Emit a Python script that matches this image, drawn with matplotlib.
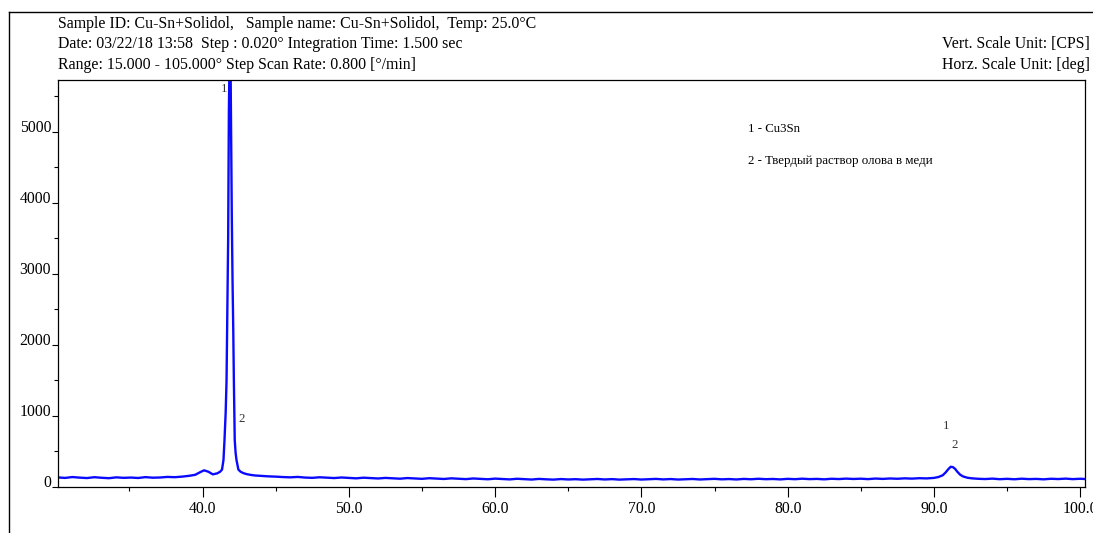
"""XRD pattern of Cu-Sn + Solidol sample, redrawn from the instrument printout."""

import matplotlib.pyplot as plt
from matplotlib.lines import Line2D
from matplotlib.ticker import MultipleLocator, FormatStrFormatter

plt.rcParams["font.family"] = ["Liberation Serif", "DejaVu Serif"]

# 2-theta (deg) and intensity (CPS)
TWO_THETA = [
    30.1, 30.6, 31.1, 31.6, 32.1, 32.6, 33.1, 33.6, 34.1, 34.6, 35.1, 35.6, 36.1, 36.6,
    37.1, 37.6, 38.1, 38.6, 39.1, 39.5, 39.8, 40.1, 40.4, 40.7, 41.0, 41.2, 41.33, 41.43,
    41.5, 41.58, 41.64, 41.7, 41.75, 41.8, 41.85, 41.88, 41.92, 41.96, 42.0, 42.05, 42.1,
    42.14, 42.2, 42.26, 42.32, 42.45, 42.6, 42.8, 43.0, 43.3, 43.6, 44.0, 44.5, 45.0,
    45.5, 46.0, 46.5, 47.0, 47.5, 48.0, 48.5, 49.0, 49.5, 50.0, 50.5, 51.0, 51.5, 52.0,
    52.5, 53.0, 53.5, 54.0, 54.5, 55.0, 55.5, 56.0, 56.5, 57.0, 57.5, 58.0, 58.5, 59.0,
    59.5, 60.0, 60.5, 61.0, 61.5, 62.0, 62.5, 63.0, 63.5, 64.0, 64.5, 65.0, 65.5, 66.0,
    66.5, 67.0, 67.5, 68.0, 68.5, 69.0, 69.5, 70.0, 70.5, 71.0, 71.5, 72.0, 72.5, 73.0,
    73.5, 74.0, 74.5, 75.0, 75.5, 76.0, 76.5, 77.0, 77.5, 78.0, 78.5, 79.0, 79.5, 80.0,
    80.5, 81.0, 81.5, 82.0, 82.5, 83.0, 83.5, 84.0, 84.5, 85.0, 85.5, 86.0, 86.5, 87.0,
    87.5, 88.0, 88.5, 89.0, 89.5, 90.0, 90.3, 90.6, 90.8, 91.0, 91.15, 91.3, 91.45, 91.6,
    91.8, 92.0, 92.3, 92.6, 93.0, 93.5, 94.0, 94.5, 95.0, 95.5, 96.0, 96.5, 97.0, 97.5,
    98.0, 98.5, 99.0, 99.5, 100.0, 100.3,
]
COUNTS = [
    135, 128, 140, 132, 126, 138, 130, 124, 136, 129, 133, 127, 139, 131,
    134, 142, 138, 146, 158, 172, 205, 235, 215, 178, 192, 215, 245, 380,
    660, 1050, 1500, 2600, 3500, 5300, 6100, 6200, 5800, 4800, 3800, 2900, 2200,
    1500, 660, 480, 380, 245, 215, 195, 182, 170, 162, 156, 150, 146,
    140, 136, 142, 133, 129, 137, 131, 126, 134, 128, 122, 131, 125, 120,
    128, 123, 117, 126, 121, 115, 124, 118, 113, 122, 116, 111, 120, 114,
    109, 118, 112, 107, 116, 110, 105, 114, 108, 104, 112, 106, 110, 104,
    109, 113, 106, 111, 104, 108, 112, 105, 110, 114, 107, 112, 105, 109,
    113, 106, 111, 115, 108, 112, 106, 114, 109, 116, 110, 113, 107, 115,
    110, 117, 111, 114, 108, 116, 112, 118, 113, 117, 111, 119, 114, 120,
    116, 122, 118, 124, 121, 128, 140, 165, 205, 255, 285, 280, 255, 215,
    172, 148, 130, 122, 116, 112, 118, 110, 115, 109, 117, 111, 114, 108,
    116, 112, 118, 111, 116, 113,
]

PEAK_LABELS = ["1", "2", "1", "2"]
PEAK_X = [41.45, 42.65, 90.85, 91.4]
PEAK_Y = [5520, 870, 780, 510]

LEGEND_LINES = ["1 - Cu3Sn", "2 - Твердый раствор олова в меди"]

HEADER_LEFT = [
    "Sample ID: Cu-Sn+Solidol,   Sample name: Cu-Sn+Solidol,  Temp: 25.0°C",
    "Date: 03/22/18 13:58  Step : 0.020° Integration Time: 1.500 sec",
    "Range: 15.000 - 105.000° Step Scan Rate: 0.800 [°/min]",
]
HEADER_RIGHT = ["Vert. Scale Unit: [CPS]", "Horz. Scale Unit: [deg]"]


def main() -> int:
    fig = plt.figure(figsize=(10.93, 5.33), dpi=100)
    ax = fig.add_axes([0.0531, 0.0863, 0.9396, 0.7636])

    ax.plot(TWO_THETA, COUNTS, color="#0a0aff", lw=1.7)
    ax.set_xlim(30.12, 100.33)
    ax.set_ylim(0, 5732)

    ax.xaxis.set_major_locator(MultipleLocator(10))
    ax.xaxis.set_minor_locator(MultipleLocator(5))
    ax.xaxis.set_major_formatter(FormatStrFormatter("%.1f"))
    ax.yaxis.set_major_locator(MultipleLocator(1000))
    ax.yaxis.set_minor_locator(MultipleLocator(500))
    ax.tick_params(axis="x", which="major", length=7, width=0.8, labelsize=11.3, pad=3)
    ax.tick_params(axis="x", which="minor", length=3, width=0.8)
    ax.tick_params(axis="y", which="major", length=4, width=0.8, labelsize=11.3, pad=1)
    ax.tick_params(axis="y", which="minor", length=3, width=0.8)
    for label in ax.get_yticklabels():
        label.set_va("baseline")
    for spine in ax.spines.values():
        spine.set_linewidth(0.9)

    for text, x, y in zip(PEAK_LABELS, PEAK_X, PEAK_Y):
        ax.text(x, y, text, fontsize=9.3, ha="center", va="bottom", color="#333333")

    for i, line in enumerate(LEGEND_LINES):
        ax.text(0.672, 0.88 - i * 0.078, line, transform=ax.transAxes, fontsize=9.3, va="center")

    for i, line in enumerate(HEADER_LEFT):
        fig.text(0.0531, 1 - (24 + i * 20.5) / 533, line, fontsize=11.4, va="center")
    for i, line in enumerate(HEADER_RIGHT):
        fig.text(0.997, 1 - (44.5 + i * 20.5) / 533, line, fontsize=11.4, va="center", ha="right")

    # outer page frame of the printout
    fig.add_artist(Line2D([9 / 1093, 9 / 1093], [0, 1 - 12 / 533], color="black", lw=1.0))
    fig.add_artist(Line2D([9 / 1093, 1], [1 - 12 / 533, 1 - 12 / 533], color="black", lw=1.0))

    fig.savefig("out.png", dpi=100)
    plt.close(fig)
    return 0


if __name__ == "__main__":
    raise SystemExit(main())
